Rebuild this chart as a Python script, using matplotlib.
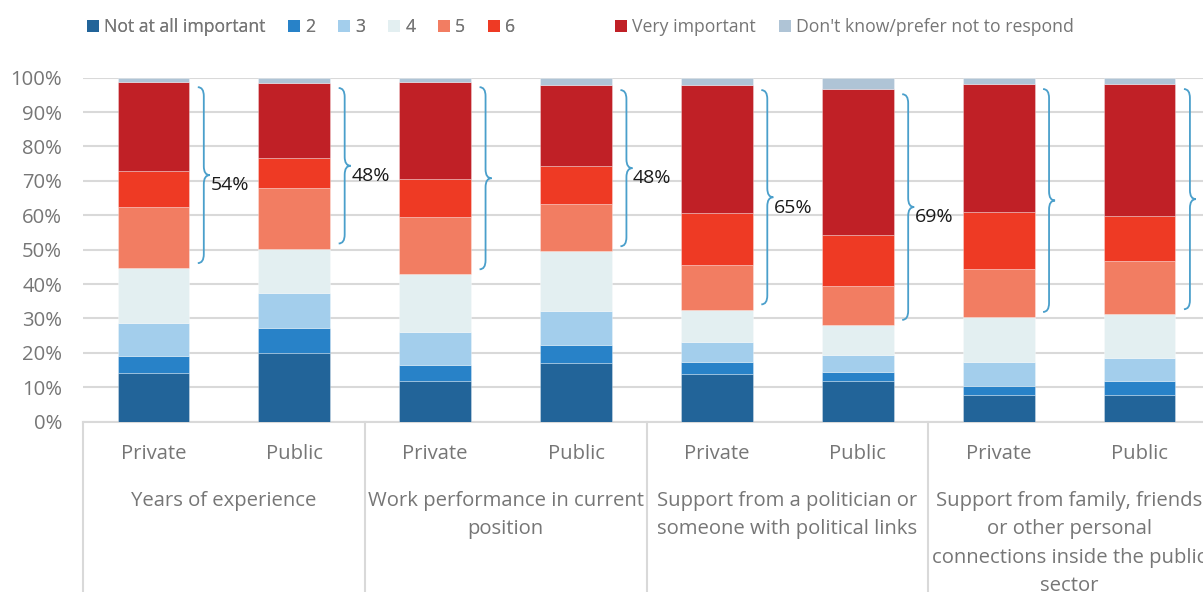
import numpy as np
import matplotlib
matplotlib.use("Agg")
import matplotlib.pyplot as plt
from matplotlib.patches import Patch, PathPatch
from matplotlib.path import Path
import matplotlib.transforms as mtransforms

plt.rcParams['font.family'] = ['Open Sans', 'DejaVu Sans']

# ---- data -------------------------------------------------------------
categories = [
    "Years of experience",
    "Work performance in current\nposition",
    "Support from a politician or\nsomeone with political links",
    "Support from family, friends\nor other personal\nconnections inside the public\nsector",
]
sectors = ["Private", "Public"]
levels = ["Not at all important", "2", "3", "4", "5", "6",
          "Very important", "Don't know/prefer not to respond"]

not_at_all = [14.1, 19.9, 11.9, 17.0, 13.8, 11.9, 7.7, 7.8]
level_2 = [5.1, 7.3, 4.5, 5.3, 3.6, 2.6, 2.7, 4.0]
level_3 = [9.4, 10.3, 9.8, 10.0, 5.9, 5.0, 7.0, 6.8]
level_4 = [16.0, 12.8, 16.6, 17.2, 9.3, 8.6, 13.0, 12.6]
level_5 = [17.7, 17.6, 16.7, 13.8, 13.0, 11.3, 14.0, 15.5]
level_6 = [10.6, 8.7, 11.05, 11.0, 15.0, 14.9, 16.6, 13.1]
very_important = [25.85, 21.9, 28.2, 23.6, 37.3, 42.4, 37.2, 38.4]
dont_know = [1.25, 1.5, 1.25, 2.1, 2.1, 3.3, 1.8, 1.8]

# which bracket totals carry a printed label
show_total = [True, True, False, True, True, True, False, False]

colors = ["#226499", "#2882C8", "#A3CEEC", "#E3EFF1",
          "#F27D62", "#EE3A24", "#C02026", "#AFC4D6"]

series = [not_at_all, level_2, level_3, level_4, level_5, level_6,
          very_important, dont_know]

FS = 14.6
GREY = "#767676"

# ---- figure -----------------------------------------------------------
W, H = 1203, 592
fig = plt.figure(figsize=(W / 100, H / 100), dpi=100)
ax_left, ax_right, ax_top, ax_bottom = 83, 1210, 77.7, 421.7
ax = fig.add_axes([ax_left / W, 1 - ax_bottom / H,
                   (ax_right - ax_left) / W, (ax_bottom - ax_top) / H])

n = len(not_at_all)
x = np.arange(n)
bottom = np.zeros(n)
for vals, col, lab in zip(series, colors, levels):
    vals = np.asarray(vals)
    ax.bar(x, vals, width=0.51, bottom=bottom, color=col, label=lab,
           edgecolor=(1, 1, 1, 0.35), linewidth=0.6, zorder=3)
    bottom += vals

ax.set_xlim(-0.5, n - 0.5)
ax.set_ylim(0, 100)
ax.set_yticks(np.arange(0, 101, 10))
ax.set_yticklabels([f"{v}%" for v in range(0, 101, 10)])
ax.yaxis.grid(True, color="#D9D9D9", linewidth=1.5, zorder=0)
ax.set_axisbelow(True)
for s in ["top", "right", "left"]:
    ax.spines[s].set_visible(False)
ax.spines["bottom"].set_color("#D9D9D9")
ax.spines["bottom"].set_linewidth(1.5)
ax.tick_params(axis="y", length=0, pad=15, labelsize=FS, labelcolor=GREY)
ax.tick_params(axis="x", length=0, pad=16, labelsize=FS, labelcolor=GREY)
ax.set_xticks(x)
ax.set_xticklabels(sectors * len(categories))

# group separators and group titles below the axis
trans = mtransforms.blended_transform_factory(ax.transData, ax.transAxes)
for g in range(len(categories) + 1):
    xs = 2 * g - 0.5
    ax.plot([xs, xs], [0, -0.6], transform=trans, color="#D9D9D9",
            linewidth=1.5, clip_on=False, zorder=1)
for g, name in enumerate(categories):
    ax.text(2 * g + 0.5, -0.201, name, transform=trans, ha="center", va="top",
            fontsize=FS, color=GREY, linespacing=1.56, clip_on=False)

# curly brackets spanning levels 5, 6 and "Very important"
def brace_path(x0, y0, y1, w, r):
    ym = (y0 + y1) / 2
    xm = x0 + w / 2
    verts = [(x0, y1), (xm, y1), (xm, y1 - r),
             (xm, ym + r), (xm, ym), (x0 + w, ym),
             (xm, ym), (xm, ym - r),
             (xm, y0 + r), (xm, y0), (x0, y0)]
    codes = [Path.MOVETO, Path.CURVE3, Path.CURVE3,
             Path.LINETO, Path.CURVE3, Path.CURVE3,
             Path.CURVE3, Path.CURVE3,
             Path.LINETO, Path.CURVE3, Path.CURVE3]
    return Path(verts, codes)

base = np.asarray(not_at_all) + np.asarray(level_2) + np.asarray(level_3) + np.asarray(level_4)
top_share = np.asarray(level_5) + np.asarray(level_6) + np.asarray(very_important)
for i in range(n):
    y0 = base[i] + 1.5
    y1 = base[i] + top_share[i] - 1.5
    x0 = i + 0.255 + 0.06
    w = 0.085
    ax.add_patch(PathPatch(brace_path(x0, y0, y1, w, 2.6), facecolor="none",
                           edgecolor="#4A9FCB", linewidth=1.3, zorder=4,
                           clip_on=False))
    if show_total[i]:
        ax.text(x0 + w + 0.005, (y0 + y1) / 2 - 3, f"{top_share[i]:.0f}%",
                ha="left", va="center", fontsize=14, color="#1A1A1A", zorder=5)

# legend in two blocks: the scale points, then the two end labels
handles = [Patch(facecolor=c, edgecolor="none") for c in colors]
legend_kw = dict(loc="center left", frameon=False, fontsize=12.7,
                 handlelength=0.68, handleheight=0.68, handletextpad=0.28,
                 columnspacing=1.3, labelcolor=GREY, borderpad=0,
                 borderaxespad=0)
leg1 = fig.legend(handles[:6], levels[:6], ncol=6,
                  bbox_to_anchor=(87 / W, 1 - 27 / H), **legend_kw)
fig.add_artist(leg1)
fig.legend(handles[6:], levels[6:], ncol=2,
           bbox_to_anchor=(615 / W, 1 - 27 / H), **legend_kw)

fig.savefig("out.png", dpi=100)
